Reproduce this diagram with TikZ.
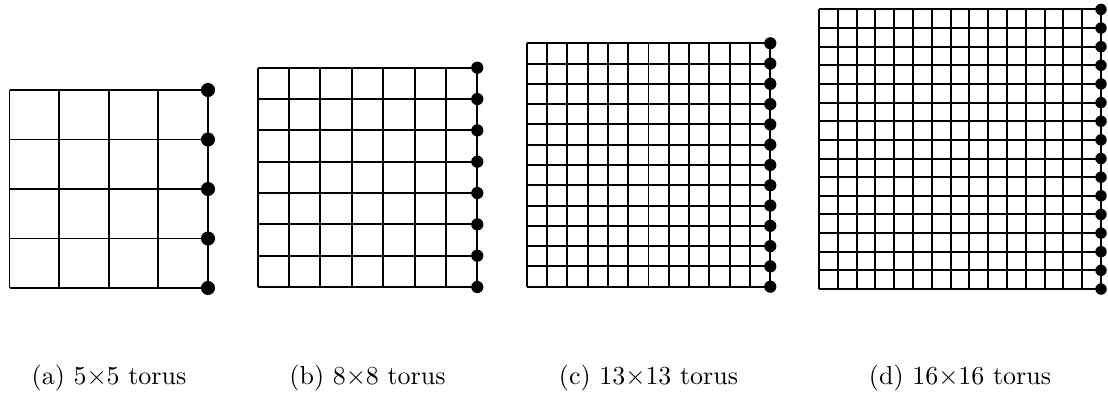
\documentclass[tikz,border=0pt]{standalone}
\begin{document}
\begin{tikzpicture}[x=0.385pt,y=-0.385pt,
  gridline/.style={line width=0.75pt,black},
  dotnode/.style={circle,fill=black,draw=none,inner sep=0pt,minimum size=#1},
  lab/.style={anchor=base,inner sep=0pt,font=\fontsize{10}{12}\selectfont}]
\useasboundingbox (0,0) rectangle (1108,393);
% (a) 5x5
\foreach \i in {0,...,4} {
  \node[dotnode=5.4pt] (a\i) at (208,{90+49.5*\i}) {};
  \draw[gridline] ({9.5+49.625*\i},90) -- ({9.5+49.625*\i},288);
  \draw[gridline] (9.5,{90+49.5*\i}) -- (a\i.center);
}
\node[lab] (la) at (109,384.5) {(a) $5{\times}5$ torus};
% (b) 8x8
\foreach \i in {0,...,7} {
  \node[dotnode=4.7pt] (b\i) at (477.3,{67.7+31.33*\i}) {};
  \draw[gridline] ({257.7+31.37*\i},67.7) -- ({257.7+31.37*\i},287);
  \draw[gridline] (257.7,{67.7+31.33*\i}) -- (b\i.center);
}
\node[lab] (lb) at (367.5,384.5) {(b) $8{\times}8$ torus};
% (c) 13x13
\foreach \i in {0,...,12} {
  \node[dotnode=4.7pt] (c\i) at (770.3,{43.3+20.28*\i}) {};
  \draw[gridline] ({526.7+20.3*\i},43.3) -- ({526.7+20.3*\i},286.7);
  \draw[gridline] (526.7,{43.3+20.28*\i}) -- (c\i.center);
}
\node[lab] (lc) at (648.5,384.5) {(c) $13{\times}13$ torus};
% (d) 16x16
\foreach \i in {0,...,15} {
  \node[dotnode=4.4pt] (d\i) at (1101,{9.4+18.64*\i}) {};
  \draw[gridline] ({819+18.8*\i},9.4) -- ({819+18.8*\i},289);
  \draw[gridline] (819,{9.4+18.64*\i}) -- (d\i.center);
}
\node[lab] (ld) at (960,384.5) {(d) $16{\times}16$ torus};
\end{tikzpicture}
\end{document}
